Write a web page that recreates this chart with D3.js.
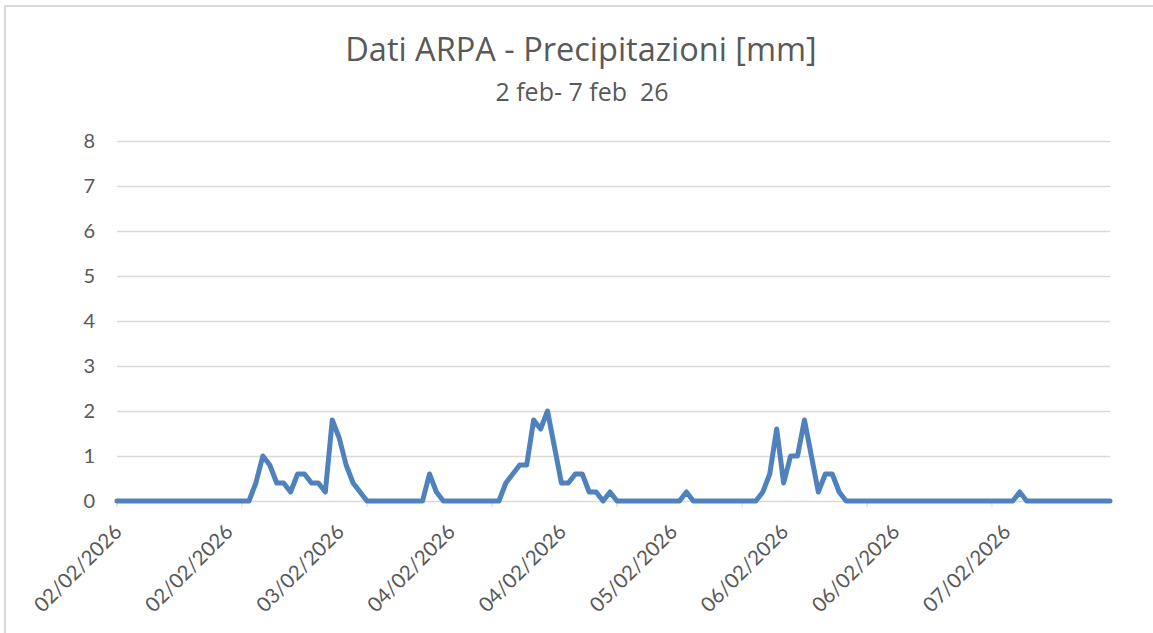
<!DOCTYPE html>
<html>
<head>
<meta charset="utf-8">
<script src="https://cdn.jsdelivr.net/npm/d3@7"></script>
<style>
  html, body { margin: 0; padding: 0; background: #fff; }
  svg { display: block; font-family: Lato, "Open Sans", sans-serif; }
</style>
</head>
<body>
<div id="chart"></div>
<script>
const title = "Dati ARPA - Precipitazioni [mm]"
const subtitle = "2 feb- 7 feb  26"

// hourly readings, one row per day (02/02 .. 07/02)
const rain = [
  0, 0, 0, 0, 0, 0, 0, 0, 0, 0, 0, 0, 0, 0, 0, 0, 0, 0, 0, 0, 0.4, 1.0, 0.8, 0.4,
  0.4, 0.2, 0.6, 0.6, 0.4, 0.4, 0.2, 1.8, 1.4, 0.8, 0.4, 0.2, 0, 0, 0, 0, 0, 0, 0, 0, 0, 0.6, 0.2, 0,
  0, 0, 0, 0, 0, 0, 0, 0, 0.4, 0.6, 0.8, 0.8, 1.8, 1.6, 2.0, 1.2, 0.4, 0.4, 0.6, 0.6, 0.2, 0.2, 0, 0.2,
  0, 0, 0, 0, 0, 0, 0, 0, 0, 0, 0.2, 0, 0, 0, 0, 0, 0, 0, 0, 0, 0, 0.2, 0.6, 1.6,
  0.4, 1.0, 1.0, 1.8, 1.0, 0.2, 0.6, 0.6, 0.2, 0, 0, 0, 0, 0, 0, 0, 0, 0, 0, 0, 0, 0, 0, 0,
  0, 0, 0, 0, 0, 0, 0, 0, 0, 0, 0.2, 0, 0, 0, 0, 0, 0, 0, 0, 0, 0, 0, 0, 0
]

// category labels shown every 16 hours, tick marks every 18
const labelIndex = [0, 16, 32, 48, 64, 80, 96, 112, 128]
const labelText = ["02/02/2026", "02/02/2026", "03/02/2026", "04/02/2026", "04/02/2026",
  "05/02/2026", "06/02/2026", "06/02/2026", "07/02/2026"]
const tickIndex = [0, 18, 36, 54, 72, 90, 108, 126]
const yTicks = [0, 1, 2, 3, 4, 5, 6, 7, 8]

const width = 1153
const height = 633
const margin = { top: 141, right: 43, bottom: 132, left: 117 }

const svg = d3.select("#chart")
  .append("svg")
  .attr("width", width)
  .attr("height", height)

// chart area border (runs off the right and bottom edge)
svg.append("rect")
  .attr("x", 5)
  .attr("y", 6)
  .attr("width", width + 20)
  .attr("height", height + 20)
  .attr("fill", "none")
  .attr("stroke", "#d9d9d9")
  .attr("stroke-width", 2)

const x = d3.scaleLinear()
  .domain([0, rain.length - 1])
  .range([margin.left, width - margin.right])

const y = d3.scaleLinear()
  .domain([0, 8])
  .range([height - margin.bottom, margin.top])

// titles
svg.append("text")
  .attr("x", 581)
  .attr("y", 61)
  .attr("text-anchor", "middle")
  .attr("fill", "#595959")
  .style("font-family", "'Open Sans', sans-serif")
  .style("font-size", "32.5px")
  .text(title)

svg.append("text")
  .attr("x", 582)
  .attr("y", 101)
  .attr("text-anchor", "middle")
  .attr("fill", "#595959")
  .style("font-family", "'Open Sans', sans-serif")
  .style("font-size", "25px")
  .style("white-space", "pre")
  .text(subtitle)

// horizontal gridlines + y labels
const yAxis = d3.axisLeft(y)
  .tickValues(yTicks)
  .tickSize(-(width - margin.left - margin.right))
  .tickPadding(22)
  .tickFormat(d3.format("d"))

svg.append("g")
  .attr("transform", `translate(${margin.left},0)`)
  .call(yAxis)
  .call((g) => g.select(".domain").remove())
  .call((g) => g.selectAll("line").attr("stroke", "#d9d9d9").attr("stroke-width", 1.3))
  .call((g) => g.selectAll("text")
    .attr("fill", "#595959")
    .style("font-size", "20px")
    .style("font-family", "Lato, sans-serif"))

// x axis tick marks
svg.append("g")
  .selectAll("line")
  .data(tickIndex)
  .join("line")
  .attr("x1", (d) => x(d))
  .attr("x2", (d) => x(d))
  .attr("y1", y(0))
  .attr("y2", y(0) + 6)
  .attr("stroke", "#d9d9d9")
  .attr("stroke-width", 1.3)

// rotated date labels
svg.append("g")
  .selectAll("text")
  .data(labelIndex)
  .join("text")
  .attr("text-anchor", "end")
  .attr("transform", (d) => `translate(${x(d) + 1},${y(0) + 27}) rotate(-45)`)
  .attr("dy", "0.35em")
  .attr("fill", "#595959")
  .style("font-size", "20.5px")
  .text((d, i) => labelText[i])

// precipitation line
const line = d3.line()
  .x((d, i) => x(i))
  .y((d) => y(d))

svg.append("path")
  .datum(rain)
  .attr("d", line)
  .attr("fill", "none")
  .attr("stroke", "#4f81bd")
  .attr("stroke-width", 5)
  .attr("stroke-linejoin", "round")
  .attr("stroke-linecap", "round")
</script>
</body>
</html>
